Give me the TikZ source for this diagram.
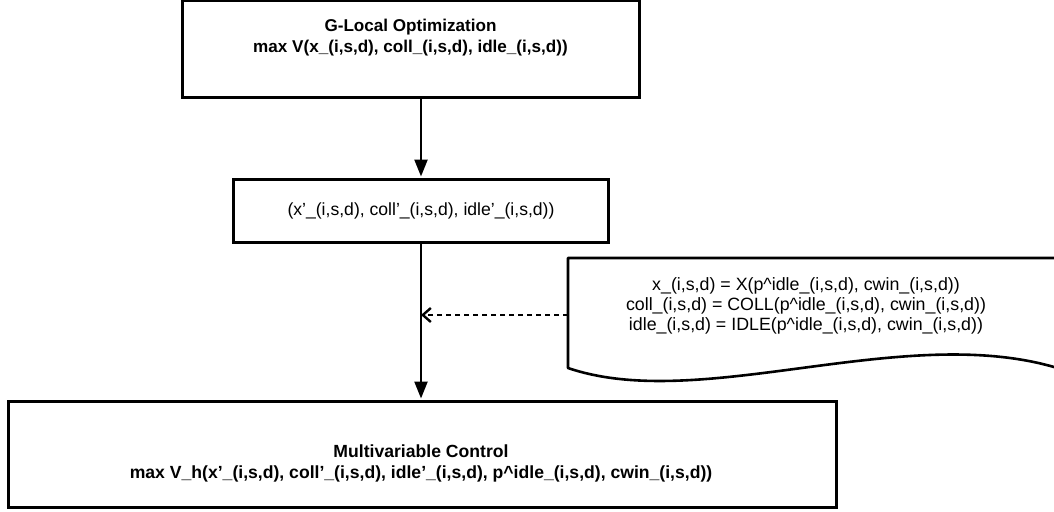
\documentclass[tikz,border=0pt]{standalone}
\usepackage{fontspec}
\setmainfont{Liberation Sans}
\usetikzlibrary{arrows.meta,calc}
\tikzset{
  box/.style={draw, line width=3pt, rectangle, inner sep=0pt},
  flow/.style={line width=2.4pt, -{Triangle[length=17pt,width=13pt]}, shorten >=1pt},
  feed/.style={line width=2.4pt, dash pattern=on 5.5pt off 3.5pt, -{Straight Barb[length=8pt,width=14pt,line width=2.4pt]}},
  lbl/.style={font=\fontsize{17.6}{20}\selectfont, align=center, inner sep=0pt},
}
\begin{document}
\begin{tikzpicture}[x=1pt,y=-1pt]
\useasboundingbox (0,0) rectangle (1054,511);
\clip (0,0) rectangle (1054,511);

% boxes
\node[box, minimum width=457pt, minimum height=96pt] (opt) at (410.5,49) {};
\node[box, minimum width=375pt, minimum height=63pt] (mid) at (421,210.5) {};
\node[box, minimum width=828pt, minimum height=106pt] (ctl) at (422,454) {};

% box texts
\node[lbl, font=\bfseries\fontsize{17.1}{21}\selectfont] (opttext) at (410.5,38) {G-Local Optimization\\max V(x\_(i,s,d), coll\_(i,s,d), idle\_(i,s,d))};
\node[lbl] (midtext) at (mid.center) {(x’\_(i,s,d), coll’\_(i,s,d), idle’\_(i,s,d))};
\node[lbl, font=\bfseries\fontsize{17.6}{21}\selectfont] (ctltext) at (421,463) {Multivariable Control\\max V\_h(x’\_(i,s,d), coll’\_(i,s,d), idle’\_(i,s,d), p\textasciicircum idle\_(i,s,d), cwin\_(i,s,d))};

% document shape with wavy lower edge (runs past the right margin)
\draw[line width=2.6pt, line join=round] (1070,258) -- (568,258) -- (568,368)
  .. controls (700,413) and (900,323) .. (1054,367) -- (1070,372);
\node[lbl, font=\fontsize{17.8}{20}\selectfont] (doctext) at (806,306) {x\_(i,s,d) = X(p\textasciicircum idle\_(i,s,d), cwin\_(i,s,d))\\coll\_(i,s,d) = COLL(p\textasciicircum idle\_(i,s,d), cwin\_(i,s,d))\\idle\_(i,s,d) = IDLE(p\textasciicircum idle\_(i,s,d), cwin\_(i,s,d))};
\coordinate (docin) at (568,315);

% connectors
\draw[flow] (mid.north |- opt.south) -- (mid.north);
\draw[flow] (mid.south) -- (mid.south |- ctl.north);
\draw[feed] (docin) -- (docin -| mid.south);
\end{tikzpicture}
\end{document}
